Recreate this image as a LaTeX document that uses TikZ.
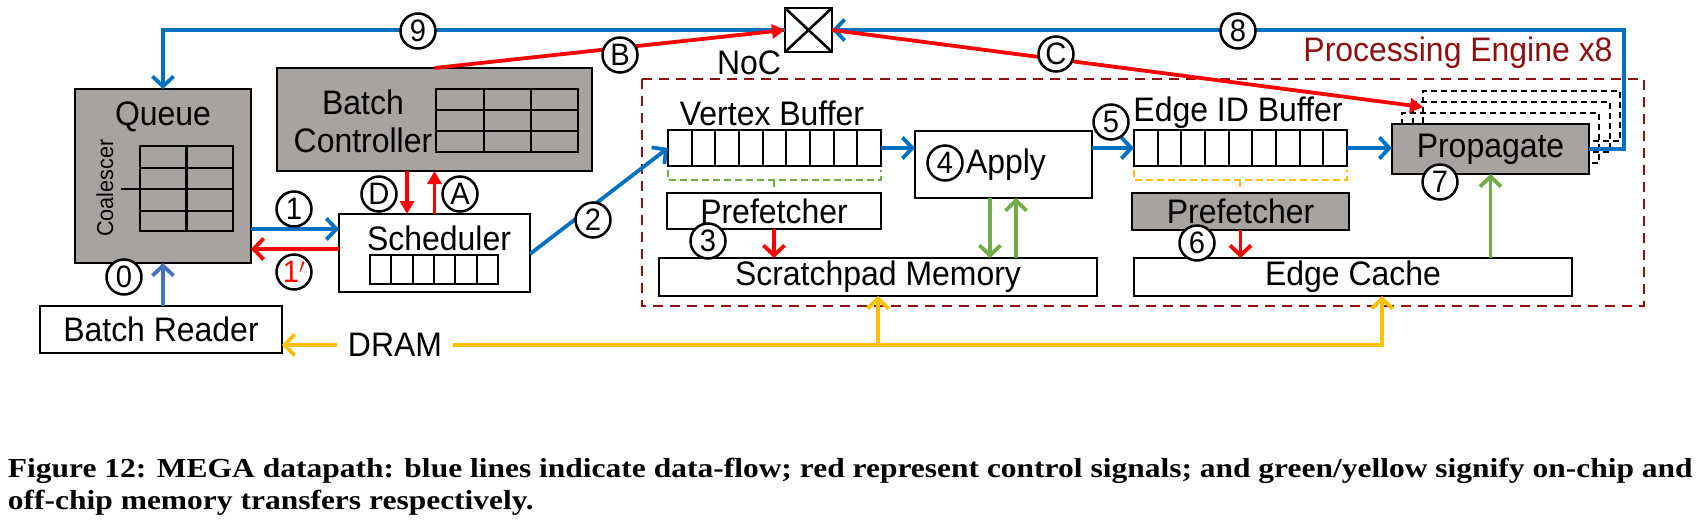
\documentclass[tikz,border=0pt]{standalone}
\usepackage{fontspec}
\setmainfont[FakeStretch=0.94]{Liberation Sans}
\newfontfamily\capfont[FakeStretch=1.145]{Liberation Serif}
\usetikzlibrary{arrows.meta}
\definecolor{cblue}{HTML}{0070C0}
\definecolor{clblue}{HTML}{4472C4}
\definecolor{cred}{HTML}{FF0000}
\definecolor{cgreen}{HTML}{70AD47}
\definecolor{cgold}{HTML}{FFC000}
\definecolor{cgray}{HTML}{A6A3A1}
\definecolor{cdark}{HTML}{8E1010}
\begin{document}
\begin{tikzpicture}[x=1pt,y=-1pt,
  every node/.style={font=\fontsize{34pt}{40pt}\selectfont, inner sep=0pt, outer sep=0pt},
  box/.style={draw, line width=2.6pt, fill=white},
  gbox/.style={draw, line width=2.6pt, fill=cgray},
  cell/.style={line width=2.3pt},
  circ/.style={circle, draw, line width=2.5pt, fill=white, minimum size=35pt, inner sep=0pt, font=\fontsize{31pt}{32pt}\selectfont},
  barb/.style={line width=3.8pt, -{Straight Barb[length=10pt,width=21pt]}},
  tri/.style={line width=3.8pt, -{Triangle[length=13pt,width=14pt]}},
  stackbox/.style={draw, line width=2.3pt, dash pattern=on 6pt off 4pt, minimum width=197pt, minimum height=50pt},
  brk/.style={line width=2pt, dash pattern=on 7pt off 4pt}
]
\useasboundingbox (0,0) rectangle (1700,528);

% ---------- Processing engine frame ----------
\draw[cdark, line width=2.8pt, dash pattern=on 10pt off 7pt] (642,79) rectangle (1644,306);
\node[text=cdark] (pelabel) at (1458,53) {Processing Engine x8};

% ---------- Queue ----------
\node[gbox, minimum width=176pt, minimum height=174pt] (queue) at (163,176) {};
\node (queuetxt) at (163,117) {Queue};
\node[rotate=90, font=\fontsize{23pt}{24pt}\selectfont] (coal) at (105,188) {Coalescer};
\draw[cell] (140,146) rectangle (233,231);
\foreach \yy in {168,189,211} \draw[cell] (140,\yy) -- (233,\yy);
\draw[cell] (186.5,146) -- (186.5,231);
\draw[cell] (121,189) -- (140,189);

% ---------- Batch controller ----------
\node[gbox, minimum width=315pt, minimum height=103pt] (bc) at (434.5,119.5) {};
\node (bctxt1) at (363,102) {Batch};
\node (bctxt2) at (363,140) {Controller};
\draw[cell] (436,89) rectangle (578,152);
\foreach \yy in {110,131} \draw[cell] (436,\yy) -- (578,\yy);
\foreach \xx in {484,531} \draw[cell] (\xx,89) -- (\xx,152);

% ---------- Scheduler ----------
\node[box, minimum width=191pt, minimum height=78pt] (sched) at (434.5,253) {};
\node (schedtxt) at (439,238) {Scheduler};
\draw[cell] (370,255) rectangle (498,284);
\foreach \i in {1,...,5} \draw[cell] ({370+\i*128/6},255) -- ({370+\i*128/6},284);

% ---------- Batch reader / DRAM ----------
\node[box, minimum width=242pt, minimum height=47pt] (breader) at (161,329.5) {Batch Reader};
\node[inner xsep=11pt, inner ysep=4pt] (dram) at (395,345) {DRAM};

% ---------- NoC ----------
\node[box, minimum width=47pt, minimum height=44pt] (noc) at (808.5,30) {};
\draw[line width=2.6pt] (noc.north west) -- (noc.south east) (noc.north east) -- (noc.south west);
\node (noctxt) at (749,63) {NoC};

% ---------- Vertex side ----------
\node (vbtxt) at (772,113) {Vertex Buffer};
\node[box, minimum width=213pt, minimum height=36pt] (vb) at (774.5,148) {};
\foreach \i in {1,...,8} \draw[cell] ({668+\i*213/9},130) -- ({668+\i*213/9},166);
\draw[cgreen, brk] (668,170) -- (668,180) -- (881,180) -- (881,170) (774,180) -- (774,190);
\node[box, minimum width=214pt, minimum height=36pt] (pf1) at (774,211) {Prefetcher};
\node[box, minimum width=438pt, minimum height=38pt] (spm) at (878,277) {Scratchpad Memory};
\node[box, minimum width=177pt, minimum height=67pt] (apply) at (1003.5,164.5) {};
\node (applytxt) at (1006,165) {Apply};

% ---------- Edge side ----------
\node (ebtxt) at (1238,113) {Edge ID Buffer};
\node[box, minimum width=213pt, minimum height=36pt] (eb) at (1240.5,148) {};
\foreach \i in {1,...,8} \draw[cell] ({1134+\i*213/9},130) -- ({1134+\i*213/9},166);
\draw[cgold, brk] (1134,170) -- (1134,180) -- (1347,180) -- (1347,170) (1240,180) -- (1240,190);
\node[gbox, minimum width=217pt, minimum height=37pt] (pf2) at (1240.5,211.5) {Prefetcher};
\node[box, minimum width=438pt, minimum height=38pt] (ec) at (1353,277) {Edge Cache};

% ---------- Propagate stack ----------
\node[stackbox] (prop3) at (1521.5,116) {};
\node[stackbox] (prop2) at (1511.5,127) {};
\node[stackbox] (prop1) at (1500.5,138) {};
\node[gbox, minimum width=197pt, minimum height=50pt] (prop) at (1490.5,149) {Propagate};

% ---------- Connectors ----------
% blue data flow
\draw[cblue, barb] (noc.west) -- (queue.north |- noc.west) -- (queue.north);
\draw[cblue, barb] (prop.east) -- ++(35,0) |- (noc.east);
\draw[cblue, barb] (queue.east |- 0,229) -- (sched.west |- 0,229);
\draw[clblue, barb] (breader.north -| queue.south) -- (queue.south);
\draw[cblue, barb] ([yshift=-1pt]sched.east) -- (vb.west);
\draw[cblue, barb] (vb.east) -- (apply.west |- vb.east);
\draw[cblue, barb] (apply.east |- eb.west) -- (eb.west);
\draw[cblue, barb] (eb.east) -- (prop.west |- eb.east);
% red control
\draw[cred, tri] (bc.north) -- (noc.west);
\draw[cred, tri] (noc.east) -- ([yshift=-16pt]prop3.north west);
\draw[cred, tri] ([xshift=-27.5pt]bc.south) -- ([xshift=-27.5pt]sched.north);
\draw[cred, tri] (sched.north) -- (bc.south);
\draw[cred, barb] (sched.west |- 0,249) -- (queue.east |- 0,249);
\draw[cred, barb] (pf1.south) -- (spm.north -| pf1.south);
\draw[cred, barb] (pf2.south) -- (ec.north -| pf2.south);
% green on-chip memory
\draw[cgreen, barb] (apply.south -| 990,0) -- (spm.north -| 990,0);
\draw[cgreen, barb] (spm.north -| 1016,0) -- (apply.south -| 1016,0);
\draw[cgreen, barb] (ec.north -| prop.south) -- (prop.south);
% yellow off-chip memory
\coordinate (ecin) at ([xshift=29pt]ec.south);
\draw[cgold, barb] (dram.west) -- (breader.east |- dram.west);
\draw[cgold, barb] (dram.east) -| (ecin);
\draw[cgold, barb] (spm.south |- dram.east) -- (spm.south);

% ---------- Step labels ----------
\node[circ] (c9) at (418,31) {9};
\node[circ] (c8) at (1238,31) {8};
\node[circ] (cB) at (620,55) {B};
\node[circ] (cC) at (1056,54) {C};
\node[circ] (c1) at (294,209) {1};
\node[circ, text=cred] (c1p) at (294,272) {1$'$};
\node[circ] (c0) at (124,277) {0};
\node[circ] (cD) at (379,194) {D};
\node[circ] (cA) at (460,194) {A};
\node[circ] (c2) at (593,220) {2};
\node[circ] (c3) at (708,241) {3};
\node[circ] (c4) at (945,163) {4};
\node[circ] (c5) at (1111,122) {5};
\node[circ] (c6) at (1197,243) {6};
\node[circ] (c7) at (1440,182) {7};

% ---------- Caption ----------
\node[anchor=base west, font=\capfont\bfseries\fontsize{27.5pt}{30pt}\selectfont] (cap1) at (8,477)
  {Figure 12: MEGA datapath: blue lines indicate data-flow; red represent control signals; and green/yellow signify on-chip and};
\node[anchor=base west, font=\capfont\bfseries\fontsize{27.5pt}{30pt}\selectfont] (cap2) at (8,509)
  {off-chip memory transfers respectively.};
\end{tikzpicture}
\end{document}
